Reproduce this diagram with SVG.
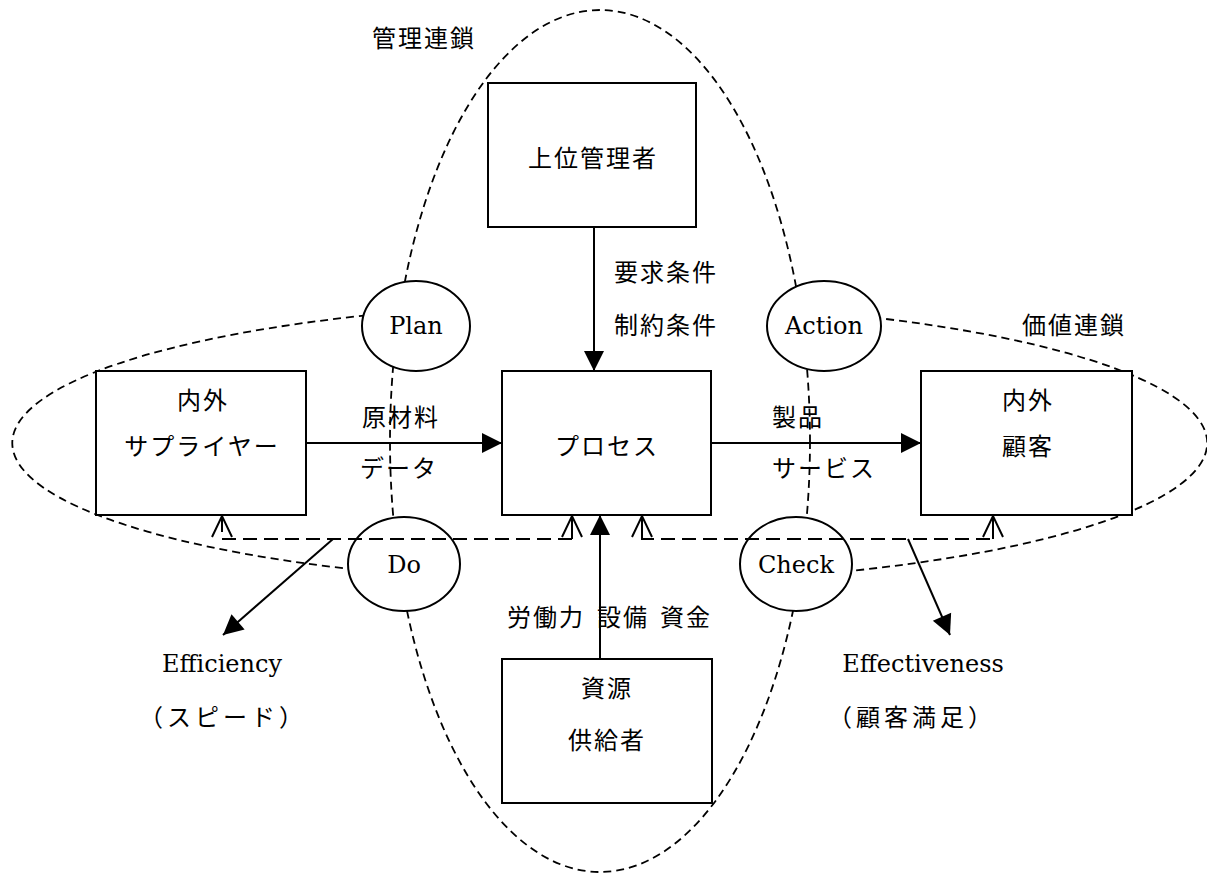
<svg xmlns="http://www.w3.org/2000/svg" width="1207" height="873" viewBox="0 0 1207 873">
<style>
.bg{fill:#fff}
.box{fill:#fff;stroke:#000;stroke-width:2}
.circ{fill:#fff;stroke:#000;stroke-width:2}
.chain{fill:none;stroke:#000;stroke-width:1.8;stroke-dasharray:8 5}
.fb{fill:none;stroke:#000;stroke-width:2;stroke-dasharray:14 7}
.arr{fill:none;stroke:#000;stroke-width:2}
.jp{font-family:"Noto Sans CJK JP","Noto Sans CJK SC",sans-serif;font-size:24px;letter-spacing:2px;fill:#000}
.en{font-family:"DejaVu Serif","Liberation Serif",serif;font-size:24px;fill:#000}
.mid{text-anchor:middle}
</style>
<defs>
<marker id="fill" markerUnits="userSpaceOnUse" markerWidth="22" markerHeight="22" refX="20" refY="10" orient="auto" overflow="visible">
<path d="M0,0 L20,10 L0,20 z" fill="#000" stroke="none"/>
</marker>
<marker id="open" markerUnits="userSpaceOnUse" markerWidth="24" markerHeight="24" refX="21" refY="10" orient="auto" overflow="visible">
<path d="M0,0 L21,10 L0,20" fill="none" stroke="#000" stroke-width="2" stroke-dasharray="none"/>
</marker>
</defs>
<rect class="bg" x="0" y="0" width="1207" height="873"/>

<g id="chains">
<ellipse class="chain" cx="600" cy="441" rx="210" ry="431"/>
<path class="chain" d="M380,314 A600,140 0 0,0 350,569"/>
<path class="chain" d="M860,316 A600,140 0 0,1 840,572"/>
<text class="jp" x="372" y="47">管理連鎖</text>
<text class="jp" x="1022" y="334">価値連鎖</text>
</g>

<g id="connectors">
<line class="arr" x1="594" y1="227" x2="594" y2="371" marker-end="url(#fill)"/>
<line class="arr" x1="600" y1="659" x2="600" y2="515" marker-end="url(#fill)"/>
<line class="arr" x1="306" y1="443" x2="502" y2="443" marker-end="url(#fill)"/>
<line class="arr" x1="711" y1="443" x2="921" y2="443" marker-end="url(#fill)"/>
</g>

<g id="node-top">
<rect class="box" x="488" y="83" width="208" height="144"/>
<text class="jp mid" x="593" y="167">上位管理者</text>
</g>
<g id="node-process">
<rect class="box" x="502" y="371" width="209" height="144"/>
<text class="jp mid" x="607" y="455">プロセス</text>
</g>
<g id="node-supplier">
<rect class="box" x="96" y="371" width="210" height="144"/>
<text class="jp mid" x="203" y="409">内外</text>
<text class="jp mid" x="202" y="455">サプライヤー</text>
</g>
<g id="node-customer">
<rect class="box" x="921" y="371" width="211" height="144"/>
<text class="jp mid" x="1028" y="409">内外</text>
<text class="jp mid" x="1028" y="455">顧客</text>
</g>
<g id="node-resource">
<rect class="box" x="502" y="659" width="210" height="144"/>
<text class="jp mid" x="607" y="697">資源</text>
<text class="jp mid" x="607" y="749">供給者</text>
</g>

<g id="node-plan">
<ellipse class="circ" cx="416" cy="326" rx="54" ry="45"/>
<text class="en mid" x="416" y="334">Plan</text>
</g>
<g id="node-action">
<ellipse class="circ" cx="824" cy="326" rx="57" ry="45"/>
<text class="en mid" x="824" y="334">Action</text>
</g>
<g id="node-do">
<ellipse class="circ" cx="404" cy="564" rx="56" ry="47"/>
<text class="en mid" x="404" y="573">Do</text>
</g>
<g id="node-check">
<ellipse class="circ" cx="796" cy="564" rx="56" ry="47"/>
<text class="en mid" x="796" y="573">Check</text>
</g>

<g id="feedback">
<polyline class="fb" points="572,539 222,539 222,516" marker-end="url(#open)"/>
<line class="arr" x1="572" y1="539" x2="572" y2="516" marker-end="url(#open)"/>
<polyline class="fb" points="642,516 642,539 993,539"/>
<line class="arr" x1="642" y1="539" x2="642" y2="516" marker-end="url(#open)"/>
<line class="arr" x1="993" y1="539" x2="993" y2="516" marker-end="url(#open)"/>
<line class="arr" x1="333" y1="539" x2="223" y2="635" marker-end="url(#fill)"/>
<line class="arr" x1="908" y1="539" x2="950" y2="635" marker-end="url(#fill)"/>
</g>

<g id="labels">
<text class="jp" x="614" y="281">要求条件</text>
<text class="jp" x="614" y="334">制約条件</text>
<text class="jp" x="362" y="426">原材料</text>
<text class="jp" x="360" y="477">データ</text>
<text class="jp" x="772" y="426">製品</text>
<text class="jp" x="772" y="477">サービス</text>
<text class="jp" x="507" y="626">労働力</text>
<text class="jp" x="597" y="626">設備</text>
<text class="jp" x="660" y="626">資金</text>
<text class="en mid" x="222" y="672">Efficiency</text>
<text class="jp mid" x="223" y="726" style="letter-spacing:4px">（スピード）</text>
<text class="en mid" x="923" y="672">Effectiveness</text>
<text class="jp mid" x="912" y="726" style="letter-spacing:4px">（顧客満足）</text>
</g>
</svg>
